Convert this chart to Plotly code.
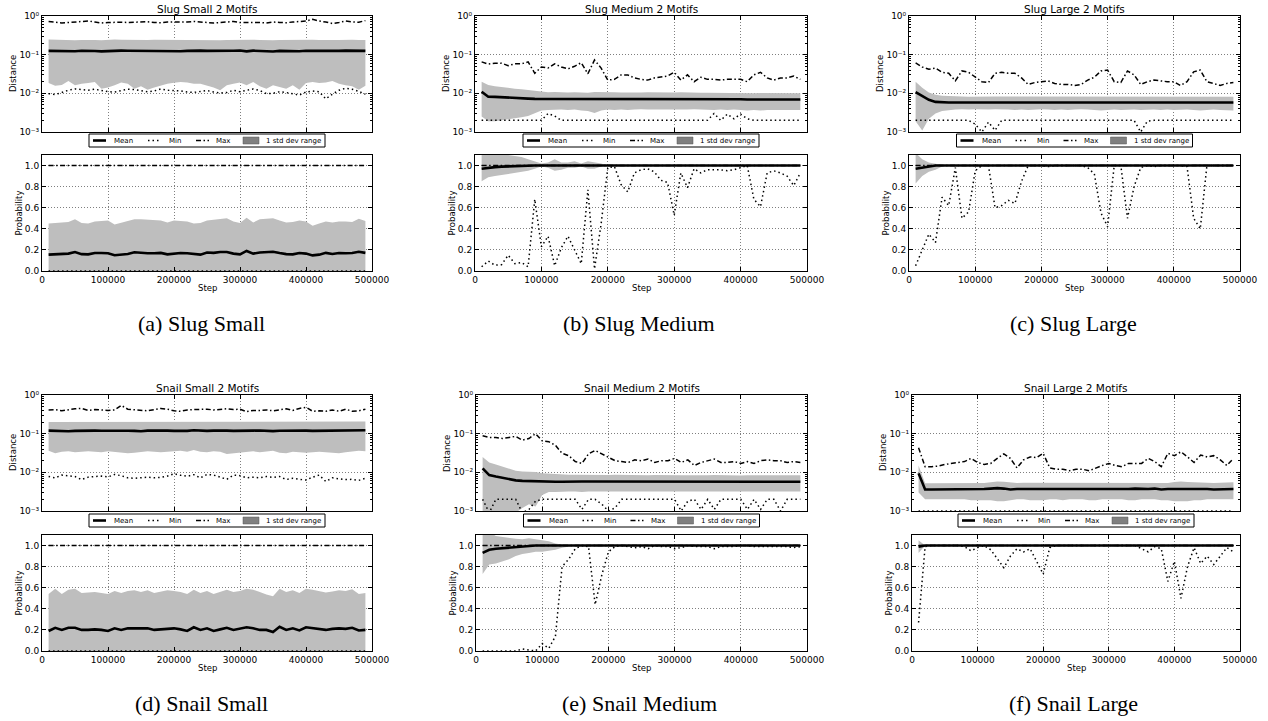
import plotly.graph_objects as go

# ---------------- data ----------------
STEPS = [10000, 20000, 30000, 40000, 50000, 60000, 70000, 80000, 90000, 100000,
         110000, 120000, 130000, 140000, 150000, 160000, 170000, 180000, 190000, 200000,
         210000, 220000, 230000, 240000, 250000, 260000, 270000, 280000, 290000, 300000,
         310000, 320000, 330000, 340000, 350000, 360000, 370000, 380000, 390000, 400000,
         410000, 420000, 430000, 440000, 450000, 460000, 470000, 480000, 490000]
X_TICKS = [0, 100000, 200000, 300000, 400000, 500000]
X_TICK_LABELS = ["0", "100000", "200000", "300000", "400000", "500000"]
DIST_TICKS = [0.001, 0.01, 0.1, 1.0]
DIST_TICK_LABELS = ["10\u207b\u00b3", "10\u207b\u00b2", "10\u207b\u00b9", "10\u2070"]
PROB_TICKS = [0.0, 0.2, 0.4, 0.6, 0.8, 1.0]
PROB_TICK_LABELS = ["0.0", "0.2", "0.4", "0.6", "0.8", "1.0"]
LEGEND_LABELS = ["Mean", "Min", "Max", "1 std dev range"]

# (a) Slug Small
A_DIST_MEAN = [0.125, 0.124, 0.122, 0.121, 0.123, 0.126, 0.127, 0.124, 0.122, 0.125,
               0.126, 0.127, 0.126, 0.125, 0.124, 0.126, 0.125, 0.124, 0.122, 0.121,
               0.123, 0.125, 0.128, 0.127, 0.125, 0.124, 0.123, 0.125, 0.126, 0.128,
               0.122, 0.127, 0.124, 0.120, 0.121, 0.125, 0.124, 0.122, 0.123, 0.126,
               0.125, 0.123, 0.122, 0.124, 0.125, 0.127, 0.126, 0.121, 0.125]
A_DIST_HI = [0.245, 0.24, 0.238, 0.232, 0.235, 0.24, 0.245, 0.24, 0.236, 0.242,
             0.245, 0.243, 0.24, 0.238, 0.236, 0.24, 0.243, 0.242, 0.24, 0.238,
             0.236, 0.24, 0.244, 0.242, 0.24, 0.238, 0.236, 0.24, 0.242, 0.245,
             0.24, 0.243, 0.24, 0.236, 0.235, 0.24, 0.242, 0.24, 0.237, 0.24,
             0.243, 0.24, 0.236, 0.238, 0.24, 0.244, 0.242, 0.24, 0.238]
A_DIST_LO = [0.0185, 0.0158, 0.0164, 0.0208, 0.0161, 0.0178, 0.0185, 0.0196, 0.0132, 0.0141,
             0.0161, 0.019, 0.0178, 0.0132, 0.0152, 0.0124, 0.0141, 0.0161, 0.0178, 0.0188,
             0.0196, 0.019, 0.0178, 0.0178, 0.0161, 0.0141, 0.012, 0.0161, 0.0178, 0.019,
             0.0161, 0.0196, 0.0152, 0.0132, 0.0161, 0.0146, 0.0132, 0.0161, 0.0124, 0.0185,
             0.0196, 0.0185, 0.019, 0.0208, 0.0178, 0.0161, 0.0152, 0.0124, 0.0158]
A_DIST_MIN = [0.0098, 0.0093, 0.0105, 0.012, 0.013, 0.0125, 0.012, 0.0128, 0.0118, 0.011,
              0.0108, 0.012, 0.0128, 0.0125, 0.0118, 0.011, 0.0115, 0.013, 0.012, 0.0118,
              0.0115, 0.0108, 0.0105, 0.0112, 0.0118, 0.0108, 0.0102, 0.0105, 0.012, 0.011,
              0.012, 0.013, 0.0118, 0.0098, 0.01, 0.011, 0.0105, 0.0098, 0.009, 0.0108,
              0.0115, 0.011, 0.0072, 0.0095, 0.012, 0.0135, 0.0128, 0.0112, 0.0095]
A_DIST_MAX = [0.72, 0.7, 0.66, 0.68, 0.69, 0.72, 0.74, 0.7, 0.66, 0.68,
              0.7, 0.69, 0.68, 0.7, 0.72, 0.71, 0.68, 0.67, 0.7, 0.69,
              0.68, 0.7, 0.72, 0.69, 0.66, 0.66, 0.68, 0.7, 0.72, 0.68,
              0.69, 0.7, 0.68, 0.66, 0.7, 0.68, 0.67, 0.7, 0.72, 0.74,
              0.82, 0.74, 0.7, 0.64, 0.68, 0.74, 0.7, 0.69, 0.76]
A_PROB_MEAN = [0.155, 0.158, 0.16, 0.165, 0.18, 0.16, 0.158, 0.17, 0.17, 0.168,
               0.15, 0.155, 0.162, 0.178, 0.172, 0.168, 0.168, 0.172, 0.158, 0.165,
               0.17, 0.168, 0.158, 0.155, 0.175, 0.172, 0.18, 0.18, 0.165, 0.158,
               0.19, 0.165, 0.175, 0.178, 0.182, 0.17, 0.16, 0.158, 0.17, 0.165,
               0.148, 0.155, 0.172, 0.162, 0.17, 0.168, 0.17, 0.182, 0.172]
A_PROB_HI = [0.45, 0.455, 0.46, 0.465, 0.49, 0.455, 0.45, 0.47, 0.475, 0.48,
             0.44, 0.455, 0.47, 0.49, 0.49, 0.485, 0.48, 0.478, 0.46, 0.48,
             0.475, 0.47, 0.45, 0.455, 0.48, 0.485, 0.495, 0.5, 0.47, 0.455,
             0.505, 0.46, 0.49, 0.495, 0.5, 0.48, 0.46, 0.465, 0.48, 0.47,
             0.43, 0.45, 0.47, 0.46, 0.47, 0.47, 0.465, 0.495, 0.475]
A_PROB_LO = [0.0, 0.0, 0.0, 0.0, 0.0, 0.0, 0.0, 0.0, 0.0, 0.0,
             0.0, 0.0, 0.0, 0.0, 0.0, 0.0, 0.0, 0.0, 0.0, 0.0,
             0.0, 0.0, 0.0, 0.0, 0.0, 0.0, 0.0, 0.0, 0.0, 0.0,
             0.0, 0.0, 0.0, 0.0, 0.0, 0.0, 0.0, 0.0, 0.0, 0.0,
             0.0, 0.0, 0.0, 0.0, 0.0, 0.0, 0.0, 0.0, 0.0]
A_PROB_MIN = [0.0, 0.0, 0.0, 0.0, 0.0, 0.0, 0.0, 0.0, 0.0, 0.0,
              0.0, 0.0, 0.0, 0.0, 0.0, 0.0, 0.0, 0.0, 0.0, 0.0,
              0.0, 0.0, 0.0, 0.0, 0.0, 0.0, 0.0, 0.0, 0.0, 0.0,
              0.0, 0.0, 0.0, 0.0, 0.0, 0.0, 0.0, 0.0, 0.0, 0.0,
              0.0, 0.0, 0.0, 0.0, 0.0, 0.0, 0.0, 0.0, 0.0]
A_PROB_MAX = [1.0, 1.0, 1.0, 1.0, 1.0, 1.0, 1.0, 1.0, 1.0, 1.0,
              1.0, 1.0, 1.0, 1.0, 1.0, 1.0, 1.0, 1.0, 1.0, 1.0,
              1.0, 1.0, 1.0, 1.0, 1.0, 1.0, 1.0, 1.0, 1.0, 1.0,
              1.0, 1.0, 1.0, 1.0, 1.0, 1.0, 1.0, 1.0, 1.0, 1.0,
              1.0, 1.0, 1.0, 1.0, 1.0, 1.0, 1.0, 1.0, 1.0]

# (b) Slug Medium
B_DIST_MEAN = [0.011, 0.0082, 0.0081, 0.0079, 0.0076, 0.0075, 0.0074, 0.0073, 0.0072, 0.0072,
               0.0072, 0.0072, 0.0071, 0.0072, 0.0072, 0.0072, 0.0071, 0.007, 0.0071, 0.0072,
               0.0071, 0.0071, 0.0072, 0.0071, 0.0071, 0.0072, 0.0071, 0.0072, 0.0072, 0.0073,
               0.0072, 0.0071, 0.0071, 0.0071, 0.0072, 0.0071, 0.0071, 0.007, 0.0071, 0.007,
               0.0069, 0.0069, 0.007, 0.0071, 0.0071, 0.0071, 0.007, 0.007, 0.0069]
B_DIST_HI = [0.02, 0.0165, 0.0152, 0.0143, 0.0138, 0.0132, 0.0128, 0.0122, 0.0115, 0.0108,
             0.0106, 0.0108, 0.0105, 0.0105, 0.0107, 0.0106, 0.0104, 0.0108, 0.0106, 0.0105,
             0.0106, 0.0105, 0.0104, 0.0106, 0.0105, 0.0106, 0.0105, 0.0104, 0.0106, 0.0105,
             0.0106, 0.0104, 0.0105, 0.0104, 0.0104, 0.0103, 0.0104, 0.0103, 0.0104, 0.0103,
             0.0102, 0.0101, 0.0102, 0.0102, 0.0101, 0.0102, 0.0101, 0.0101, 0.0101]
B_DIST_LO = [0.0025, 0.0019, 0.0019, 0.002, 0.0021, 0.0023, 0.0024, 0.0026, 0.003, 0.0036,
             0.0037, 0.0038, 0.0038, 0.0037, 0.0038, 0.0036, 0.0035, 0.0031, 0.0036, 0.0038,
             0.0037, 0.0038, 0.0037, 0.0038, 0.0039, 0.0038, 0.0038, 0.0037, 0.0038, 0.0038,
             0.0037, 0.0038, 0.0039, 0.0038, 0.0038, 0.0037, 0.0038, 0.0037, 0.0038, 0.0037,
             0.0036, 0.0037, 0.0036, 0.0037, 0.0037, 0.0037, 0.0037, 0.0036, 0.0037]
B_DIST_MIN = [0.002, 0.002, 0.002, 0.002, 0.002, 0.002, 0.002, 0.002, 0.002, 0.002,
              0.003, 0.0026, 0.002, 0.002, 0.002, 0.002, 0.002, 0.002, 0.002, 0.002,
              0.002, 0.002, 0.002, 0.002, 0.002, 0.002, 0.002, 0.002, 0.002, 0.002,
              0.002, 0.002, 0.002, 0.002, 0.002, 0.003, 0.002, 0.0029, 0.0022, 0.0029,
              0.0022, 0.002, 0.002, 0.002, 0.002, 0.002, 0.002, 0.002, 0.002]
B_DIST_MAX = [0.065, 0.057, 0.06, 0.06, 0.052, 0.058, 0.058, 0.065, 0.033, 0.048,
              0.045, 0.058, 0.048, 0.043, 0.05, 0.062, 0.032, 0.073, 0.045, 0.022,
              0.023, 0.03, 0.03, 0.025, 0.023, 0.022, 0.025, 0.027, 0.028, 0.035,
              0.022, 0.03, 0.02, 0.026, 0.023, 0.023, 0.022, 0.023, 0.023, 0.023,
              0.02, 0.03, 0.035, 0.025, 0.022, 0.025, 0.025, 0.028, 0.023]
B_PROB_MEAN = [0.97, 0.98, 0.985, 0.99, 0.993, 0.995, 0.997, 0.998, 1.0, 1.0,
               1.0, 1.0, 1.0, 1.0, 1.0, 1.0, 1.0, 1.0, 1.0, 1.0,
               1.0, 1.0, 1.0, 1.0, 1.0, 1.0, 1.0, 1.0, 1.0, 1.0,
               1.0, 1.0, 1.0, 1.0, 1.0, 1.0, 1.0, 1.0, 1.0, 1.0,
               1.0, 1.0, 1.0, 1.0, 1.0, 1.0, 1.0, 1.0, 1.0]
B_PROB_HI = [1.15, 1.14, 1.12, 1.11, 1.1, 1.09, 1.08, 1.06, 1.04, 1.02,
             1.03, 1.06, 1.03, 1.03, 1.04, 1.02, 1.04, 1.03, 1.02, 1.0,
             1.0, 1.0, 1.0, 1.0, 1.0, 1.0, 1.0, 1.0, 1.0, 1.0,
             1.0, 1.0, 1.0, 1.0, 1.0, 1.0, 1.0, 1.0, 1.0, 1.0,
             1.0, 1.0, 1.0, 1.0, 1.0, 1.0, 1.0, 1.0, 1.0]
B_PROB_LO = [0.85, 0.89, 0.9, 0.91, 0.92, 0.93, 0.94, 0.95, 0.97, 0.99,
             0.98, 0.95, 0.96, 0.98, 0.98, 0.99, 0.97, 0.97, 0.99, 1.0,
             1.0, 1.0, 1.0, 1.0, 1.0, 1.0, 1.0, 1.0, 1.0, 1.0,
             1.0, 1.0, 1.0, 1.0, 1.0, 1.0, 1.0, 1.0, 1.0, 1.0,
             1.0, 1.0, 1.0, 1.0, 1.0, 1.0, 1.0, 1.0, 1.0]
B_PROB_MIN = [0.04, 0.095, 0.055, 0.06, 0.15, 0.07, 0.08, 0.04, 0.68, 0.23,
              0.33, 0.05, 0.22, 0.33, 0.2, 0.07, 0.77, 0.02, 0.45, 0.98,
              0.99, 0.82, 0.75, 0.93, 0.96, 0.97, 0.94, 0.86, 0.84, 0.53,
              0.93, 0.79, 0.97, 0.93, 0.96, 0.96, 0.96, 0.95, 0.96, 0.98,
              1.0, 0.68, 0.61, 0.93, 0.95, 0.93, 0.9, 0.81, 0.93]
B_PROB_MAX = [1.0, 1.0, 1.0, 1.0, 1.0, 1.0, 1.0, 1.0, 1.0, 1.0,
              1.0, 1.0, 1.0, 1.0, 1.0, 1.0, 1.0, 1.0, 1.0, 1.0,
              1.0, 1.0, 1.0, 1.0, 1.0, 1.0, 1.0, 1.0, 1.0, 1.0,
              1.0, 1.0, 1.0, 1.0, 1.0, 1.0, 1.0, 1.0, 1.0, 1.0,
              1.0, 1.0, 1.0, 1.0, 1.0, 1.0, 1.0, 1.0, 1.0]

# (c) Slug Large
C_DIST_MEAN = [0.0108, 0.0085, 0.0068, 0.006, 0.0058, 0.0058, 0.0058, 0.0058, 0.0058, 0.0058,
               0.0058, 0.0058, 0.0058, 0.0059, 0.0058, 0.0058, 0.0058, 0.0058, 0.0058, 0.0058,
               0.0057, 0.0057, 0.0057, 0.0058, 0.0058, 0.0058, 0.0058, 0.0058, 0.0058, 0.0058,
               0.0058, 0.0057, 0.0058, 0.0058, 0.0058, 0.0058, 0.0058, 0.0057, 0.0058, 0.0058,
               0.0058, 0.0058, 0.0058, 0.0058, 0.0058, 0.0058, 0.0058, 0.0058, 0.0058]
C_DIST_HI = [0.02, 0.014, 0.0105, 0.0092, 0.0086, 0.0084, 0.0083, 0.0083, 0.0082, 0.0083,
             0.0082, 0.0082, 0.0083, 0.0083, 0.0083, 0.0082, 0.0082, 0.0082, 0.0083, 0.0082,
             0.0081, 0.0081, 0.0082, 0.0082, 0.0082, 0.0082, 0.0083, 0.0082, 0.0082, 0.0082,
             0.0083, 0.0082, 0.0082, 0.0081, 0.0082, 0.0082, 0.0083, 0.0082, 0.0082, 0.0082,
             0.0082, 0.0083, 0.0082, 0.0082, 0.0082, 0.0082, 0.0081, 0.0081, 0.0082]
C_DIST_LO = [0.0019, 0.0011, 0.0022, 0.003, 0.0035, 0.0037, 0.0038, 0.0039, 0.0038, 0.0039,
             0.0038, 0.0038, 0.0039, 0.0039, 0.0038, 0.0037, 0.0038, 0.0037, 0.0038, 0.0039,
             0.0038, 0.0037, 0.0038, 0.0037, 0.0038, 0.0039, 0.0038, 0.0037, 0.0036, 0.0037,
             0.0038, 0.0037, 0.0038, 0.0038, 0.0037, 0.0038, 0.0038, 0.0037, 0.0038, 0.0037,
             0.0038, 0.0038, 0.0037, 0.0036, 0.0037, 0.0038, 0.0037, 0.0037, 0.0036]
C_DIST_MIN = [0.002, 0.002, 0.002, 0.002, 0.002, 0.002, 0.002, 0.002, 0.002, 0.0016,
              0.001, 0.0018, 0.0011, 0.002, 0.002, 0.002, 0.002, 0.002, 0.002, 0.002,
              0.002, 0.002, 0.002, 0.002, 0.002, 0.002, 0.002, 0.002, 0.002, 0.002,
              0.002, 0.002, 0.002, 0.002, 0.001, 0.0019, 0.002, 0.002, 0.002, 0.002,
              0.002, 0.002, 0.002, 0.002, 0.002, 0.002, 0.002, 0.002, 0.002]
C_DIST_MAX = [0.061, 0.048, 0.042, 0.045, 0.035, 0.033, 0.021, 0.038, 0.035, 0.027,
              0.02, 0.019, 0.033, 0.035, 0.033, 0.033, 0.025, 0.017, 0.019, 0.02,
              0.021, 0.018, 0.017, 0.017, 0.016, 0.017, 0.022, 0.026, 0.038, 0.04,
              0.02, 0.019, 0.038, 0.03, 0.017, 0.02, 0.022, 0.021, 0.02, 0.02,
              0.016, 0.02, 0.036, 0.04, 0.02, 0.018, 0.016, 0.018, 0.019]
C_PROB_MEAN = [0.97, 0.98, 0.995, 1.0, 1.0, 1.0, 1.0, 1.0, 1.0, 1.0,
               1.0, 1.0, 1.0, 1.0, 1.0, 1.0, 1.0, 1.0, 1.0, 1.0,
               1.0, 1.0, 1.0, 1.0, 1.0, 1.0, 1.0, 1.0, 1.0, 1.0,
               1.0, 1.0, 1.0, 1.0, 1.0, 1.0, 1.0, 1.0, 1.0, 1.0,
               1.0, 1.0, 1.0, 1.0, 1.0, 1.0, 1.0, 1.0, 1.0]
C_PROB_HI = [1.12, 1.06, 1.03, 1.015, 1.005, 1.0, 1.0, 1.0, 1.0, 1.0,
             1.0, 1.0, 1.0, 1.0, 1.0, 1.0, 1.0, 1.0, 1.005, 1.01,
             1.005, 1.0, 1.0, 1.0, 1.0, 1.0, 1.0, 1.0, 1.01, 1.01,
             1.005, 1.0, 1.0, 1.0, 1.0, 1.0, 1.0, 1.0, 1.0, 1.0,
             1.0, 1.0, 1.01, 1.012, 1.005, 1.0, 1.0, 1.0, 1.0]
C_PROB_LO = [0.83, 0.9, 0.94, 0.96, 0.99, 1.0, 1.0, 1.0, 1.0, 1.0,
             1.0, 1.0, 1.0, 1.0, 1.0, 1.0, 1.0, 1.0, 1.0, 1.0,
             1.0, 1.0, 1.0, 1.0, 1.0, 1.0, 1.0, 1.0, 1.0, 1.0,
             1.0, 1.0, 1.0, 1.0, 1.0, 1.0, 1.0, 1.0, 1.0, 1.0,
             1.0, 1.0, 1.0, 1.0, 1.0, 1.0, 1.0, 1.0, 1.0]
C_PROB_MIN = [0.05, 0.2, 0.35, 0.27, 0.7, 0.62, 0.98, 0.5, 0.56, 0.95,
              1.0, 1.0, 0.6, 0.62, 0.67, 0.64, 0.85, 1.0, 1.0, 1.0,
              0.99, 1.0, 1.0, 1.0, 1.0, 1.0, 0.98, 0.92, 0.55, 0.42,
              1.0, 1.0, 0.5, 0.8, 0.98, 1.0, 0.99, 1.0, 1.0, 1.0,
              1.0, 0.99, 0.5, 0.4, 1.0, 1.0, 1.0, 1.0, 1.0]
C_PROB_MAX = [1.0, 1.0, 1.0, 1.0, 1.0, 1.0, 1.0, 1.0, 1.0, 1.0,
              1.0, 1.0, 1.0, 1.0, 1.0, 1.0, 1.0, 1.0, 1.0, 1.0,
              1.0, 1.0, 1.0, 1.0, 1.0, 1.0, 1.0, 1.0, 1.0, 1.0,
              1.0, 1.0, 1.0, 1.0, 1.0, 1.0, 1.0, 1.0, 1.0, 1.0,
              1.0, 1.0, 1.0, 1.0, 1.0, 1.0, 1.0, 1.0, 1.0]

# (d) Snail Small
D_DIST_MEAN = [0.12, 0.118, 0.117, 0.115, 0.118, 0.12, 0.121, 0.12, 0.119, 0.12,
               0.121, 0.12, 0.119, 0.118, 0.115, 0.12, 0.121, 0.119, 0.12, 0.118,
               0.116, 0.118, 0.123, 0.12, 0.118, 0.12, 0.122, 0.12, 0.118, 0.117,
               0.118, 0.12, 0.121, 0.118, 0.116, 0.119, 0.12, 0.117, 0.119, 0.12,
               0.118, 0.119, 0.12, 0.118, 0.117, 0.118, 0.122, 0.123, 0.123]
D_DIST_HI = [0.2, 0.2, 0.198, 0.2, 0.202, 0.2, 0.198, 0.2, 0.201, 0.2,
             0.198, 0.2, 0.202, 0.2, 0.197, 0.2, 0.201, 0.2, 0.199, 0.2,
             0.198, 0.2, 0.203, 0.2, 0.199, 0.2, 0.201, 0.2, 0.198, 0.2,
             0.2, 0.2, 0.202, 0.2, 0.197, 0.2, 0.2, 0.199, 0.2, 0.198,
             0.2, 0.2, 0.201, 0.2, 0.199, 0.2, 0.204, 0.205, 0.207]
D_DIST_LO = [0.036, 0.031, 0.034, 0.035, 0.033, 0.034, 0.035, 0.034, 0.033, 0.035,
             0.034, 0.032, 0.031, 0.032, 0.034, 0.035, 0.034, 0.033, 0.034, 0.035,
             0.036, 0.034, 0.038, 0.034, 0.033, 0.035, 0.034, 0.03, 0.031, 0.033,
             0.034, 0.035, 0.033, 0.034, 0.036, 0.032, 0.031, 0.034, 0.033, 0.032,
             0.033, 0.034, 0.033, 0.032, 0.031, 0.033, 0.034, 0.036, 0.035]
D_DIST_MIN = [0.0078, 0.0072, 0.0085, 0.008, 0.0078, 0.0065, 0.0075, 0.0078, 0.008, 0.0076,
              0.0088, 0.0082, 0.0072, 0.007, 0.0072, 0.0075, 0.0072, 0.0074, 0.008, 0.0092,
              0.0084, 0.0079, 0.0087, 0.0072, 0.0088, 0.0085, 0.0075, 0.0066, 0.0085, 0.0082,
              0.0072, 0.0075, 0.0072, 0.0078, 0.0074, 0.0078, 0.0065, 0.007, 0.0066, 0.0063,
              0.0075, 0.0085, 0.0058, 0.0072, 0.0068, 0.0065, 0.0066, 0.0062, 0.007]
D_DIST_MAX = [0.41, 0.42, 0.39, 0.42, 0.44, 0.45, 0.4, 0.42, 0.41, 0.4,
              0.41, 0.54, 0.43, 0.42, 0.41, 0.39, 0.42, 0.45, 0.43, 0.39,
              0.38, 0.41, 0.42, 0.42, 0.43, 0.41, 0.42, 0.44, 0.42, 0.43,
              0.37, 0.4, 0.4, 0.41, 0.39, 0.42, 0.44, 0.4, 0.45, 0.48,
              0.38, 0.39, 0.38, 0.41, 0.38, 0.43, 0.38, 0.39, 0.43]
D_PROB_MEAN = [0.19, 0.22, 0.2, 0.22, 0.22, 0.2, 0.2, 0.205, 0.2, 0.19,
               0.215, 0.2, 0.215, 0.215, 0.21, 0.215, 0.2, 0.205, 0.215, 0.215,
               0.205, 0.19, 0.225, 0.2, 0.215, 0.19, 0.205, 0.22, 0.2, 0.215,
               0.225, 0.215, 0.2, 0.2, 0.18, 0.23, 0.2, 0.215, 0.195, 0.225,
               0.215, 0.21, 0.2, 0.21, 0.215, 0.21, 0.22, 0.195, 0.2]
D_PROB_HI = [0.54, 0.59, 0.54, 0.58, 0.59, 0.55, 0.555, 0.56, 0.55, 0.54,
             0.57, 0.55, 0.57, 0.575, 0.56, 0.575, 0.55, 0.56, 0.575, 0.57,
             0.56, 0.54, 0.58, 0.55, 0.57, 0.54, 0.56, 0.58, 0.56, 0.57,
             0.59, 0.58, 0.56, 0.535, 0.52, 0.59, 0.56, 0.575, 0.55, 0.59,
             0.58, 0.57, 0.555, 0.565, 0.575, 0.57, 0.585, 0.54, 0.55]
D_PROB_LO = [0.0, 0.0, 0.0, 0.0, 0.0, 0.0, 0.0, 0.0, 0.0, 0.0,
             0.0, 0.0, 0.0, 0.0, 0.0, 0.0, 0.0, 0.0, 0.0, 0.0,
             0.0, 0.0, 0.0, 0.0, 0.0, 0.0, 0.0, 0.0, 0.0, 0.0,
             0.0, 0.0, 0.0, 0.0, 0.0, 0.0, 0.0, 0.0, 0.0, 0.0,
             0.0, 0.0, 0.0, 0.0, 0.0, 0.0, 0.0, 0.0, 0.0]
D_PROB_MIN = [0.0, 0.0, 0.0, 0.0, 0.0, 0.0, 0.0, 0.0, 0.0, 0.0,
              0.0, 0.0, 0.0, 0.0, 0.0, 0.0, 0.0, 0.0, 0.0, 0.0,
              0.0, 0.0, 0.0, 0.0, 0.0, 0.0, 0.0, 0.0, 0.0, 0.0,
              0.0, 0.0, 0.0, 0.0, 0.0, 0.0, 0.0, 0.0, 0.0, 0.0,
              0.0, 0.0, 0.0, 0.0, 0.0, 0.0, 0.0, 0.0, 0.0]
D_PROB_MAX = [1.0, 1.0, 1.0, 1.0, 1.0, 1.0, 1.0, 1.0, 1.0, 1.0,
              1.0, 1.0, 1.0, 1.0, 1.0, 1.0, 1.0, 1.0, 1.0, 1.0,
              1.0, 1.0, 1.0, 1.0, 1.0, 1.0, 1.0, 1.0, 1.0, 1.0,
              1.0, 1.0, 1.0, 1.0, 1.0, 1.0, 1.0, 1.0, 1.0, 1.0,
              1.0, 1.0, 1.0, 1.0, 1.0, 1.0, 1.0, 1.0, 1.0]

# (e) Snail Medium
E_DIST_MEAN = [0.0127, 0.0085, 0.0078, 0.0072, 0.0066, 0.0062, 0.006, 0.0059, 0.0058, 0.0058,
               0.0058, 0.0057, 0.0057, 0.0058, 0.0058, 0.0058, 0.0058, 0.0058, 0.0057, 0.0058,
               0.0058, 0.0058, 0.0058, 0.0058, 0.0057, 0.0057, 0.0058, 0.0057, 0.0057, 0.0056,
               0.0057, 0.0057, 0.0056, 0.0057, 0.0057, 0.0058, 0.0057, 0.0057, 0.0057, 0.0056,
               0.0057, 0.0057, 0.0057, 0.0057, 0.0057, 0.0056, 0.0057, 0.0057, 0.0057]
E_DIST_HI = [0.025, 0.018, 0.016, 0.014, 0.012, 0.011, 0.0105, 0.0105, 0.0102, 0.0095,
             0.0092, 0.009, 0.0088, 0.0087, 0.0087, 0.0086, 0.0086, 0.0086, 0.0085, 0.0085,
             0.0086, 0.0085, 0.0085, 0.0085, 0.0085, 0.0084, 0.0085, 0.0084, 0.0085, 0.0084,
             0.0084, 0.0084, 0.0083, 0.0084, 0.0084, 0.0085, 0.0084, 0.0084, 0.0083, 0.0083,
             0.0084, 0.0084, 0.0085, 0.0084, 0.0084, 0.0083, 0.0083, 0.0084, 0.0084]
E_DIST_LO = [0.0002, 0.0003, 0.0004, 0.0006, 0.0008, 0.0009, 0.0012, 0.0015, 0.0013, 0.0026,
             0.0031, 0.0031, 0.0032, 0.0032, 0.0032, 0.0031, 0.0032, 0.0032, 0.0032, 0.0032,
             0.0032, 0.0032, 0.0033, 0.0032, 0.0032, 0.0033, 0.0032, 0.0032, 0.0032, 0.0032,
             0.0032, 0.0032, 0.0032, 0.0033, 0.0032, 0.0032, 0.0032, 0.0032, 0.0032, 0.0032,
             0.0032, 0.0032, 0.0032, 0.0032, 0.0032, 0.0032, 0.0032, 0.0032, 0.0032]
E_DIST_MIN = [0.002, 0.0009, 0.002, 0.002, 0.002, 0.002, 0.0009, 0.0011, 0.0018, 0.002,
              0.002, 0.002, 0.002, 0.002, 0.002, 0.0011, 0.002, 0.002, 0.0015, 0.001,
              0.0012, 0.002, 0.002, 0.002, 0.002, 0.002, 0.002, 0.002, 0.002, 0.002,
              0.001, 0.0018, 0.002, 0.0011, 0.002, 0.0011, 0.002, 0.002, 0.002, 0.002,
              0.0011, 0.002, 0.0011, 0.002, 0.002, 0.001, 0.002, 0.002, 0.002]
E_DIST_MAX = [0.088, 0.08, 0.08, 0.075, 0.08, 0.085, 0.068, 0.075, 0.1, 0.065,
              0.062, 0.05, 0.031, 0.027, 0.019, 0.017, 0.03, 0.037, 0.03, 0.025,
              0.02, 0.019, 0.018, 0.021, 0.02, 0.022, 0.018, 0.02, 0.02, 0.023,
              0.018, 0.021, 0.015, 0.018, 0.02, 0.022, 0.018, 0.018, 0.019, 0.017,
              0.019, 0.017, 0.02, 0.021, 0.02, 0.02, 0.018, 0.019, 0.018]
E_PROB_MEAN = [0.93, 0.96, 0.97, 0.975, 0.985, 0.99, 0.995, 0.998, 1.0, 1.0,
               1.0, 1.0, 1.0, 1.0, 1.0, 1.0, 1.0, 1.0, 1.0, 1.0,
               1.0, 1.0, 1.0, 1.0, 1.0, 1.0, 1.0, 1.0, 1.0, 1.0,
               1.0, 1.0, 1.0, 1.0, 1.0, 1.0, 1.0, 1.0, 1.0, 1.0,
               1.0, 1.0, 1.0, 1.0, 1.0, 1.0, 1.0, 1.0, 1.0]
E_PROB_HI = [1.15, 1.13, 1.09, 1.08, 1.07, 1.065, 1.06, 1.07, 1.06, 1.05,
             1.04, 1.02, 1.01, 1.0, 1.0, 1.0, 1.0, 1.01, 1.005, 1.0,
             1.0, 1.0, 1.0, 1.0, 1.0, 1.0, 1.0, 1.0, 1.0, 1.0,
             1.0, 1.0, 1.0, 1.0, 1.0, 1.0, 1.0, 1.0, 1.0, 1.0,
             1.0, 1.0, 1.0, 1.0, 1.0, 1.0, 1.0, 1.0, 1.0]
E_PROB_LO = [0.73, 0.82, 0.83, 0.85, 0.87, 0.9, 0.92, 0.93, 0.94, 0.94,
             0.95, 0.96, 0.98, 0.99, 1.0, 1.0, 1.0, 0.99, 0.995, 1.0,
             1.0, 1.0, 1.0, 1.0, 1.0, 1.0, 1.0, 1.0, 1.0, 1.0,
             1.0, 1.0, 1.0, 1.0, 1.0, 1.0, 1.0, 1.0, 1.0, 1.0,
             1.0, 1.0, 1.0, 1.0, 1.0, 1.0, 1.0, 1.0, 1.0]
E_PROB_MIN = [0.0, 0.0, 0.0, 0.005, 0.0, 0.0, 0.02, 0.01, 0.0, 0.07,
              0.025, 0.14, 0.8, 0.87, 0.97, 1.0, 0.99, 0.44, 0.72, 0.94,
              0.99, 1.0, 0.99, 0.98, 0.99, 0.97, 1.0, 0.99, 0.99, 0.97,
              0.98, 1.0, 0.99, 0.99, 0.99, 0.97, 0.99, 0.99, 0.99, 1.0,
              1.0, 0.99, 0.99, 0.99, 0.99, 0.99, 0.99, 0.98, 0.99]
E_PROB_MAX = [1.0, 1.0, 1.0, 1.0, 1.0, 1.0, 1.0, 1.0, 1.0, 1.0,
              1.0, 1.0, 1.0, 1.0, 1.0, 1.0, 1.0, 1.0, 1.0, 1.0,
              1.0, 1.0, 1.0, 1.0, 1.0, 1.0, 1.0, 1.0, 1.0, 1.0,
              1.0, 1.0, 1.0, 1.0, 1.0, 1.0, 1.0, 1.0, 1.0, 1.0,
              1.0, 1.0, 1.0, 1.0, 1.0, 1.0, 1.0, 1.0, 1.0]

# (f) Snail Large
F_DIST_MEAN = [0.0094, 0.0036, 0.0036, 0.0036, 0.0037, 0.0037, 0.0037, 0.0037, 0.0037, 0.0037,
               0.0037, 0.0038, 0.0039, 0.0038, 0.0036, 0.0037, 0.0037, 0.0037, 0.0037, 0.0037,
               0.0037, 0.0037, 0.0036, 0.0037, 0.0037, 0.0037, 0.0037, 0.0037, 0.0037, 0.0037,
               0.0037, 0.0037, 0.0037, 0.0038, 0.0037, 0.0037, 0.0038, 0.0036, 0.0037, 0.0037,
               0.0037, 0.0038, 0.0037, 0.0038, 0.0037, 0.0036, 0.0036, 0.0037, 0.0037]
F_DIST_HI = [0.015, 0.0052, 0.0052, 0.0052, 0.0053, 0.0053, 0.0052, 0.0052, 0.0053, 0.0053,
             0.0053, 0.0055, 0.0058, 0.0057, 0.0054, 0.0053, 0.0054, 0.0054, 0.0053, 0.0054,
             0.0053, 0.0054, 0.0053, 0.0053, 0.0054, 0.0053, 0.0053, 0.0053, 0.0054, 0.0053,
             0.0053, 0.0053, 0.0054, 0.0055, 0.0053, 0.0053, 0.0054, 0.0053, 0.0053, 0.0056,
             0.0058, 0.0056, 0.0055, 0.0055, 0.0054, 0.0053, 0.0054, 0.0055, 0.0055]
F_DIST_LO = [0.003, 0.002, 0.002, 0.002, 0.002, 0.002, 0.002, 0.002, 0.0019, 0.0019,
             0.0019, 0.0019, 0.0018, 0.0018, 0.0019, 0.002, 0.002, 0.0019, 0.0019, 0.0019,
             0.002, 0.002, 0.0019, 0.002, 0.002, 0.002, 0.0019, 0.0019, 0.002, 0.002,
             0.002, 0.002, 0.0019, 0.0019, 0.002, 0.002, 0.002, 0.0019, 0.0019, 0.0018,
             0.0018, 0.0018, 0.0019, 0.0019, 0.002, 0.002, 0.002, 0.002, 0.002]
F_DIST_MIN = [0.001, 0.001, 0.001, 0.001, 0.001, 0.001, 0.001, 0.001, 0.001, 0.001,
              0.001, 0.001, 0.001, 0.001, 0.001, 0.001, 0.001, 0.001, 0.001, 0.001,
              0.001, 0.001, 0.001, 0.001, 0.001, 0.001, 0.001, 0.001, 0.001, 0.001,
              0.001, 0.001, 0.001, 0.001, 0.001, 0.001, 0.001, 0.001, 0.001, 0.001,
              0.001, 0.001, 0.001, 0.001, 0.001, 0.001, 0.001, 0.001, 0.001]
F_DIST_MAX = [0.043, 0.014, 0.014, 0.0145, 0.016, 0.017, 0.018, 0.019, 0.023, 0.018,
              0.016, 0.017, 0.023, 0.03, 0.023, 0.013, 0.021, 0.025, 0.024, 0.031,
              0.013, 0.012, 0.012, 0.011, 0.012, 0.012, 0.011, 0.013, 0.015, 0.017,
              0.015, 0.014, 0.017, 0.017, 0.017, 0.023, 0.019, 0.014, 0.031, 0.027,
              0.034, 0.025, 0.018, 0.028, 0.025, 0.027, 0.021, 0.015, 0.023]
F_PROB_MEAN = [0.99, 1.0, 1.0, 1.0, 1.0, 1.0, 1.0, 1.0, 1.0, 1.0,
               1.0, 1.0, 1.0, 1.0, 1.0, 1.0, 1.0, 1.0, 1.0, 1.0,
               1.0, 1.0, 1.0, 1.0, 1.0, 1.0, 1.0, 1.0, 1.0, 1.0,
               1.0, 1.0, 1.0, 1.0, 1.0, 1.0, 1.0, 1.0, 1.0, 1.0,
               1.0, 1.0, 1.0, 1.0, 1.0, 1.0, 1.0, 1.0, 1.0]
F_PROB_HI = [1.05, 1.0, 1.0, 1.0, 1.0, 1.0, 1.0, 1.0, 1.0, 1.0,
             1.0, 1.0, 1.0, 1.0, 1.0, 1.0, 1.0, 1.0, 1.0, 1.0,
             1.0, 1.0, 1.0, 1.0, 1.0, 1.0, 1.0, 1.0, 1.0, 1.0,
             1.0, 1.0, 1.0, 1.0, 1.0, 1.0, 1.0, 1.0, 1.0, 1.005,
             1.008, 1.005, 1.0, 1.0, 1.0, 1.0, 1.0, 1.0, 1.0]
F_PROB_LO = [0.93, 1.0, 1.0, 1.0, 1.0, 1.0, 1.0, 1.0, 1.0, 1.0,
             1.0, 1.0, 1.0, 1.0, 1.0, 1.0, 1.0, 1.0, 1.0, 1.0,
             1.0, 1.0, 1.0, 1.0, 1.0, 1.0, 1.0, 1.0, 1.0, 1.0,
             1.0, 1.0, 1.0, 1.0, 1.0, 1.0, 1.0, 1.0, 1.0, 1.0,
             1.0, 1.0, 1.0, 1.0, 1.0, 1.0, 1.0, 1.0, 1.0]
F_PROB_MIN = [0.27, 0.99, 1.0, 1.0, 1.0, 1.0, 1.0, 0.99, 0.95, 0.98,
              1.0, 0.96, 0.88, 0.79, 0.9, 0.97, 0.94, 0.97, 0.85, 0.73,
              0.98, 1.0, 1.0, 1.0, 1.0, 1.0, 1.0, 1.0, 1.0, 1.0,
              1.0, 1.0, 1.0, 1.0, 0.97, 0.94, 0.99, 0.97, 0.66, 0.85,
              0.5, 0.8, 0.98, 0.83, 0.9, 0.82, 0.9, 0.98, 0.94]
F_PROB_MAX = [1.0, 1.0, 1.0, 1.0, 1.0, 1.0, 1.0, 1.0, 1.0, 1.0,
              1.0, 1.0, 1.0, 1.0, 1.0, 1.0, 1.0, 1.0, 1.0, 1.0,
              1.0, 1.0, 1.0, 1.0, 1.0, 1.0, 1.0, 1.0, 1.0, 1.0,
              1.0, 1.0, 1.0, 1.0, 1.0, 1.0, 1.0, 1.0, 1.0, 1.0,
              1.0, 1.0, 1.0, 1.0, 1.0, 1.0, 1.0, 1.0, 1.0]

# ---------------- layout helpers ----------------
W, H = 1268, 721
def PX(x):
    return x / W
def PY(y):
    return 1 - y / H

FILL = "#bebebe"
PATCH = "#808080"
DOT = "1.5px,3px"
DASHDOT = "5px,2.5px,1.5px,2.5px"
FONT = "DejaVu Sans"

ROWS = [
    dict(top=(16, 132), bot=(155, 271), title_y=9, legend_y=140.5, step_y=288, cap_y=323),
    dict(top=(395, 511), bot=(535, 651), title_y=388, legend_y=520.5, step_y=668, cap_y=703),
]

PANELS = [
    dict(title="Slug Small 2 Motifs", caption="(a) Slug Small", x0=42, x1=372, row=0, cap_x=201,
         dist=(A_DIST_MEAN, A_DIST_MIN, A_DIST_MAX, A_DIST_LO, A_DIST_HI),
         prob=(A_PROB_MEAN, A_PROB_MIN, A_PROB_MAX, A_PROB_LO, A_PROB_HI)),
    dict(title="Slug Medium 2 Motifs", caption="(b) Slug Medium", x0=475, x1=807, row=0, cap_x=639,
         dist=(B_DIST_MEAN, B_DIST_MIN, B_DIST_MAX, B_DIST_LO, B_DIST_HI),
         prob=(B_PROB_MEAN, B_PROB_MIN, B_PROB_MAX, B_PROB_LO, B_PROB_HI)),
    dict(title="Slug Large 2 Motifs", caption="(c) Slug Large", x0=909, x1=1240, row=0, cap_x=1073,
         dist=(C_DIST_MEAN, C_DIST_MIN, C_DIST_MAX, C_DIST_LO, C_DIST_HI),
         prob=(C_PROB_MEAN, C_PROB_MIN, C_PROB_MAX, C_PROB_LO, C_PROB_HI)),
    dict(title="Snail Small 2 Motifs", caption="(d) Snail Small", x0=42, x1=372, row=1, cap_x=201,
         dist=(D_DIST_MEAN, D_DIST_MIN, D_DIST_MAX, D_DIST_LO, D_DIST_HI),
         prob=(D_PROB_MEAN, D_PROB_MIN, D_PROB_MAX, D_PROB_LO, D_PROB_HI)),
    dict(title="Snail Medium 2 Motifs", caption="(e) Snail Medium", x0=476, x1=807, row=1, cap_x=639,
         dist=(E_DIST_MEAN, E_DIST_MIN, E_DIST_MAX, E_DIST_LO, E_DIST_HI),
         prob=(E_PROB_MEAN, E_PROB_MIN, E_PROB_MAX, E_PROB_LO, E_PROB_HI)),
    dict(title="Snail Large 2 Motifs", caption="(f) Snail Large", x0=912, x1=1240, row=1, cap_x=1073,
         dist=(F_DIST_MEAN, F_DIST_MIN, F_DIST_MAX, F_DIST_LO, F_DIST_HI),
         prob=(F_PROB_MEAN, F_PROB_MIN, F_PROB_MAX, F_PROB_LO, F_PROB_HI)),
]

for p in PANELS:
    for arr in p["dist"] + p["prob"]:
        assert len(arr) == len(STEPS), (p["title"], len(arr))

fig = go.Figure()

def axname(k, letter):
    return letter if k == 1 else f"{letter}{k}"

def add_series(k, series):
    mean, mn, mx, lo, hi = series
    xa, ya = axname(k, "x"), axname(k, "y")
    common = dict(x=STEPS, xaxis=xa, yaxis=ya, showlegend=False, hoverinfo="skip", mode="lines")
    fig.add_trace(go.Scatter(y=hi, line=dict(width=0, color=FILL), **common))
    fig.add_trace(go.Scatter(y=lo, line=dict(width=0, color=FILL), fill="tonexty",
                             fillcolor=FILL, **common))
    fig.add_trace(go.Scatter(y=mx, line=dict(width=1.5, color="black", dash=DASHDOT), **common))
    fig.add_trace(go.Scatter(y=mn, line=dict(width=1.5, color="black", dash=DOT), **common))
    fig.add_trace(go.Scatter(y=mean, line=dict(width=2.6, color="black"), **common))

tickfont = dict(family=FONT, size=9, color="black")
axis_common = dict(showline=True, linecolor="black", linewidth=1, mirror="allticks",
                   ticks="inside", ticklen=4, tickwidth=1, tickcolor="black",
                   showgrid=True, gridcolor="rgba(0,0,0,0.5)", griddash="1px,2px", gridwidth=0.8,
                   zeroline=False, automargin=False, tickfont=tickfont)

MINOR_LOG = [m * d for d in (0.001, 0.01, 0.1) for m in range(2, 10)]

layout_axes = {}
shapes = []
annotations = []

def text(x, y, s, size, family=FONT, angle=0, anchor="center"):
    annotations.append(dict(x=PX(x), y=PY(y), xref="paper", yref="paper", text=s,
                            showarrow=False, xanchor=anchor, yanchor="middle",
                            textangle=angle, font=dict(family=family, size=size, color="black")))

for i, p in enumerate(PANELS):
    r = ROWS[p["row"]]
    kt, kb = 2 * i + 1, 2 * i + 2
    add_series(kt, p["dist"])
    add_series(kb, p["prob"])
    xdom = [PX(p["x0"]), PX(p["x1"])]
    layout_axes[axname(kt, "xaxis")] = dict(axis_common, domain=xdom, anchor=axname(kt, "y"),
                                            range=[0, 500000], tickvals=X_TICKS,
                                            showticklabels=False)
    layout_axes[axname(kt, "yaxis")] = dict(axis_common, domain=[PY(r["top"][1]), PY(r["top"][0])],
                                            anchor=axname(kt, "x"), type="log", range=[-3, 0],
                                            tickvals=DIST_TICKS, ticktext=DIST_TICK_LABELS,
                                            minor=dict(tickvals=MINOR_LOG, ticks="inside", ticklen=2,
                                                       tickcolor="black", showgrid=False))
    layout_axes[axname(kb, "xaxis")] = dict(axis_common, domain=xdom, anchor=axname(kb, "y"),
                                            range=[0, 500000], tickvals=X_TICKS,
                                            ticktext=X_TICK_LABELS)
    layout_axes[axname(kb, "yaxis")] = dict(axis_common, domain=[PY(r["bot"][1]), PY(r["bot"][0])],
                                            anchor=axname(kb, "x"), range=[0, 1.1],
                                            tickvals=PROB_TICKS, ticktext=PROB_TICK_LABELS)

    cx = (p["x0"] + p["x1"]) / 2
    text(cx, r["title_y"], p["title"], 10.5)
    text(p["x0"] - 29, (r["top"][0] + r["top"][1]) / 2, "Distance", 8.5, angle=-90)
    text(p["x0"] - 23.5, (r["bot"][0] + r["bot"][1]) / 2, "Probability", 8.5, angle=-90)
    text(cx, r["step_y"], "Step", 8.5)
    text(p["cap_x"], r["cap_y"], p["caption"], 22, family="Liberation Serif")

    # legend box
    cy = r["legend_y"]
    left = cx - 118
    shapes.append(dict(type="rect", xref="paper", yref="paper", x0=PX(left), x1=PX(left + 236),
                       y0=PY(cy + 6.5), y1=PY(cy - 6.5), line=dict(color="black", width=1),
                       fillcolor="white", layer="above"))
    shapes.append(dict(type="line", xref="paper", yref="paper", x0=PX(left + 4), x1=PX(left + 17),
                       y0=PY(cy), y1=PY(cy), line=dict(color="black", width=2.6)))
    shapes.append(dict(type="line", xref="paper", yref="paper", x0=PX(left + 59), x1=PX(left + 72),
                       y0=PY(cy), y1=PY(cy), line=dict(color="black", width=1.5, dash=DOT)))
    shapes.append(dict(type="line", xref="paper", yref="paper", x0=PX(left + 107), x1=PX(left + 120),
                       y0=PY(cy), y1=PY(cy), line=dict(color="black", width=1.5, dash=DASHDOT)))
    shapes.append(dict(type="rect", xref="paper", yref="paper", x0=PX(left + 154), x1=PX(left + 170),
                       y0=PY(cy + 3.5), y1=PY(cy - 3.5), line=dict(color="#555555", width=0.5),
                       fillcolor=PATCH))
    for off, lab in zip((23, 78, 125, 175), LEGEND_LABELS):
        text(left + off, cy, lab, 7, anchor="left")

fig.update_layout(
    template="none",
    width=W, height=H, autosize=False,
    margin=dict(l=0, r=0, t=0, b=0, pad=0),
    paper_bgcolor="white", plot_bgcolor="white",
    showlegend=False,
    font=dict(family=FONT, size=9, color="black"),
    shapes=shapes, annotations=annotations,
    **layout_axes,
)

fig.write_html("out.html")
